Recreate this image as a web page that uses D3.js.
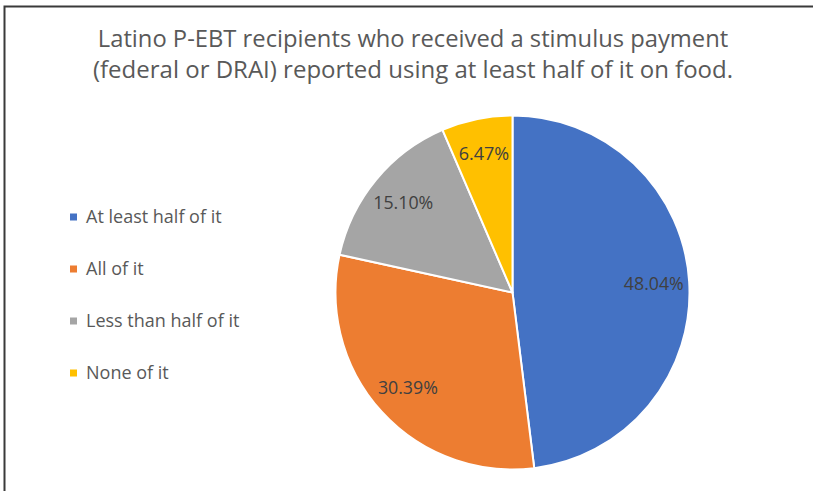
<!DOCTYPE html>
<html>
<head>
<meta charset="utf-8">
<script src="https://cdn.jsdelivr.net/npm/d3@7"></script>
<style>
  html, body { margin: 0; padding: 0; background: #fff; }
  svg { display: block; }
  text { font-family: "Open Sans", "Noto Sans", sans-serif; }
</style>
</head>
<body>
<svg id="chart" width="813" height="491"></svg>
<script>
// Chart data
const titleLines = [
  "Latino P-EBT recipients who received a stimulus payment",
  "(federal or DRAI) reported using at least half of it on food."
];
const categories = ["At least half of it", "All of it", "Less than half of it", "None of it"];
const shares = [48.04, 30.39, 15.10, 6.47];
const colors = ["#4472C4", "#ED7D31", "#A5A5A5", "#FFC000"];

const W = 813, H = 491;
const svg = d3.select("#chart");

// Shrink a text element's font size until it fits a given width
function fitWidth(sel, width, start) {
  let size = start;
  sel.attr("font-size", size);
  while (sel.node().getComputedTextLength() > width && size > 6) {
    size -= 0.25;
    sel.attr("font-size", size);
  }
  return size;
}

// Frame
svg.append("path")
  .attr("d", `M4.5,${H} V6.5 H${W}`)
  .attr("fill", "none")
  .attr("stroke", "#3a3a3a")
  .attr("stroke-width", 2);

// Title
const titleBaselines = [47, 78];
titleLines.forEach((t, i) => {
  const el = svg.append("text")
    .attr("x", 413)
    .attr("y", titleBaselines[i])
    .attr("text-anchor", "middle")
    .attr("fill", "#595959")
    .text(t);
  fitWidth(el, i === 0 ? 634 : 645, 26);
});

// Pie
const cx = 512.5, cy = 292.5, R = 177;
const pie = d3.pie().sort(null).value(d => d.value);
const data = categories.map((c, i) => ({ name: c, value: shares[i], color: colors[i] }));
const arcs = pie(data);
const arc = d3.arc().innerRadius(0).outerRadius(R);
const labelArc = d3.arc().innerRadius(R * 0.8).outerRadius(R * 0.8);

const g = svg.append("g").attr("transform", `translate(${cx},${cy})`);
g.selectAll("path.slice")
  .data(arcs)
  .join("path")
  .attr("class", "slice")
  .attr("d", arc)
  .attr("fill", d => d.data.color)
  .attr("stroke", "#fff")
  .attr("stroke-width", 2)
  .attr("stroke-linejoin", "round");

const fmt = d3.format(".2f");
const labels = g.selectAll("text.lbl")
  .data(arcs)
  .join("text")
  .attr("class", "lbl")
  .attr("transform", d => `translate(${labelArc.centroid(d)})`)
  .attr("text-anchor", "middle")
  .attr("dy", "0.35em")
  .attr("fill", "#404040")
  .text(d => fmt(d.data.value) + "%");
labels.each(function () { fitWidth(d3.select(this), 60, 18); });

// Legend
const legendY = d3.scalePoint().domain(categories).range([217, 373]);
const lg = svg.append("g");
const rows = lg.selectAll("g")
  .data(data)
  .join("g")
  .attr("transform", d => `translate(0,${legendY(d.name)})`);
rows.append("rect")
  .attr("x", 70).attr("y", -3.5)
  .attr("width", 7).attr("height", 7)
  .attr("fill", d => d.color);
const ltext = rows.append("text")
  .attr("x", 86)
  .attr("dy", "0.35em")
  .attr("fill", "#595959")
  .text(d => d.name);
const lsize = fitWidth(ltext.filter((d, i) => i === 0), 136, 20);
ltext.attr("font-size", lsize);
</script>
</body>
</html>
